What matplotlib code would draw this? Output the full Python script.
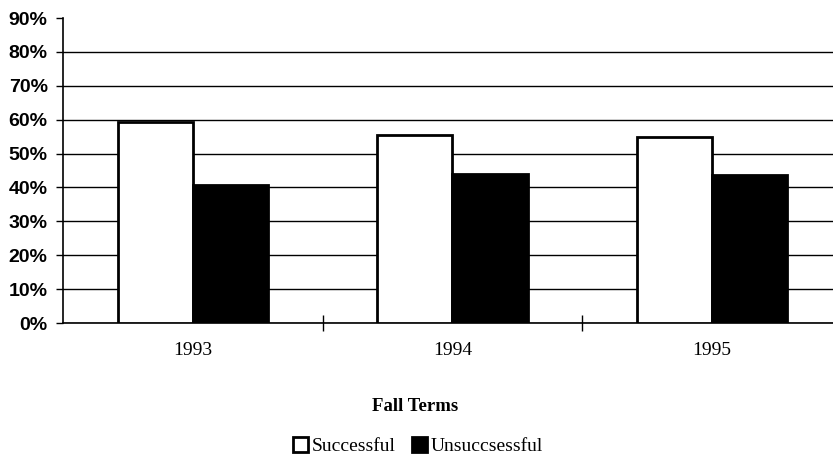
import matplotlib
matplotlib.use("Agg")
import matplotlib.pyplot as plt
from matplotlib.patches import Patch
import numpy as np

categories = ["1993", "1994", "1995"]
successful = [59.4, 55.6, 54.9]
unsuccessful = [40.6, 43.9, 43.7]
yticks = [0, 10, 20, 30, 40, 50, 60, 70, 80, 90]
ytick_labels = ["0%", "10%", "20%", "30%", "40%", "50%", "60%", "70%", "80%", "90%"]

plt.rcParams['font.family'] = ['Liberation Serif', 'DejaVu Serif']

fig = plt.figure(figsize=(8.33, 4.65), dpi=100)
W, H = 833, 465
left, right, bottom, top = 63, 842, 323, 18
ax = fig.add_axes([left / W, 1 - bottom / H, (right - left) / W, (bottom - top) / H])

x = np.arange(len(categories))
bw = 0.29
ax.bar(x - bw / 2, successful, width=bw, color="white", edgecolor="black", linewidth=2, zorder=3, label="Successful")
ax.bar(x + bw / 2, unsuccessful, width=bw, color="black", edgecolor="black", linewidth=2, zorder=3, label="Unsuccsessful")

ax.set_xlim(-0.5, len(categories) - 0.5)
ax.set_ylim(0, 90)
ax.set_yticks(yticks)
ax.set_yticklabels(ytick_labels, fontsize=14, fontweight="bold", fontfamily=['Liberation Sans', 'DejaVu Sans'])
ax.yaxis.grid(True, color="black", linewidth=1.0)
ax.yaxis.get_gridlines()[-1].set_visible(False)
ax.set_axisbelow(True)

ax.set_xticks(x)
ax.set_xticklabels(categories, fontsize=14)
ax.tick_params(axis="x", length=0, pad=14)
ax.set_xticks([0.5, 1.5], minor=True)
ax.tick_params(axis="x", which="minor", direction="inout", length=12, width=1)
ax.tick_params(axis="y", direction="out", length=5, width=1, pad=6)

for s in ["top", "right"]:
    ax.spines[s].set_visible(False)
ax.spines["left"].set_linewidth(1.2)
ax.spines["bottom"].set_linewidth(1.2)

fig.text(415 / W, 1 - 406 / H, "Fall Terms", ha="center", va="center", fontsize=13.5, fontweight="bold")

handles = [Patch(facecolor="white", edgecolor="black", linewidth=2, label="Successful"),
           Patch(facecolor="black", edgecolor="black", linewidth=2, label="Unsuccsessful")]
fig.legend(handles=handles, loc="center", bbox_to_anchor=(418 / W, 1 - 446 / H), ncol=2, frameon=False,
           fontsize=14, handlelength=0.8, handleheight=0.8, handletextpad=0.2, columnspacing=0.8)

fig.savefig("out.png", dpi=100)
